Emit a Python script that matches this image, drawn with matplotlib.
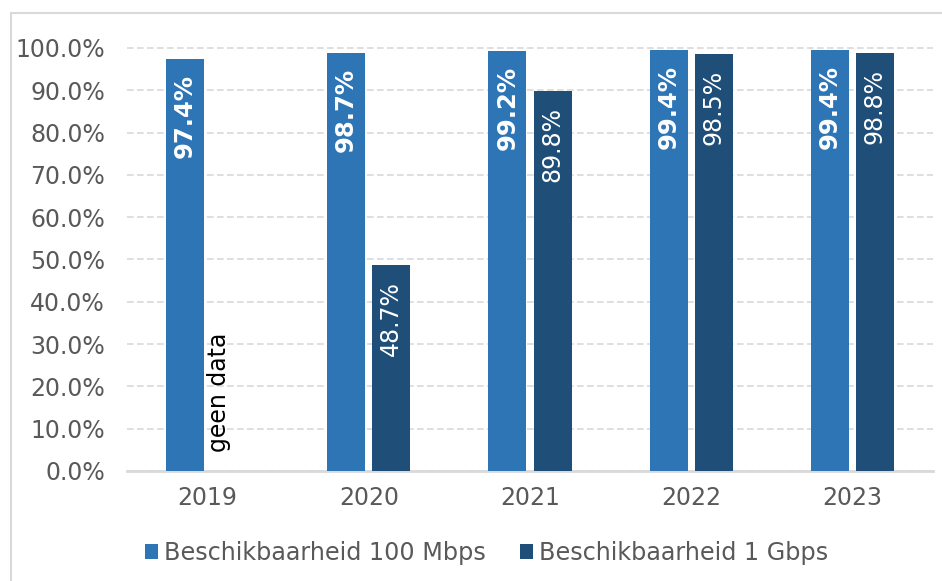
import matplotlib
matplotlib.use("Agg")
import matplotlib.pyplot as plt
import numpy as np
from matplotlib.patches import Rectangle

years = ["2019", "2020", "2021", "2022", "2023"]
mbps100 = [97.4, 98.7, 99.2, 99.4, 99.4]
gbps1 = [np.nan, 48.7, 89.8, 98.5, 98.8]
series_names = ["Beschikbaarheid 100 Mbps", "Beschikbaarheid 1 Gbps"]
no_data_text = "geen data"

blue = "#2E75B6"
dark = "#1F4E79"
grey = "#595959"
grid_col = "#D9D9D9"

plt.rcParams["font.family"] = "DejaVu Sans"
plt.rcParams["font.size"] = 17

fig = plt.figure(figsize=(9.42, 5.81), dpi=100)
fig.patches.append(Rectangle((11 / 942, -0.1), 1.2, 1.1 - 13 / 581,
                             transform=fig.transFigure, fill=False,
                             edgecolor=grid_col, linewidth=1.5))
ax = fig.add_axes([127 / 942, 1 - 471 / 581, (933 - 127) / 942, (471 - 39.5) / 581])

x = np.arange(len(years))
w = 0.235
off = 0.14
b1 = ax.bar(x - off, mbps100, w, color=blue, label=series_names[0], zorder=3)
b2 = ax.bar(x + off, np.nan_to_num(gbps1), w, color=dark, label=series_names[1], zorder=3)

# value labels inside the bars, near the top
for xi, v in zip(x, mbps100):
    ax.annotate(f"{v:.1f}%", (xi - off, v), xytext=(0, -10.5), textcoords="offset points",
                rotation=90, ha="center", va="top", color="white", fontweight="bold",
                fontsize=17.5, zorder=4)
for xi, v in zip(x, gbps1):
    if np.isnan(v):
        ax.text(xi + 0.07, 4.5, no_data_text, rotation=90, ha="center", va="bottom",
                color="black", fontsize=17, zorder=4)
    else:
        ax.annotate(f"{v:.1f}%", (xi + off, v), xytext=(0, -11.5), textcoords="offset points",
                    rotation=90, ha="center", va="top", color="white", fontsize=17, zorder=4)

ax.set_xlim(-0.5, 4.5)
ax.set_ylim(0, 102)
ax.set_yticks(np.arange(0, 101, 10))
ax.set_yticklabels([f"{t:.1f}%" for t in np.arange(0, 101, 10)])
ax.set_xticks(x)
ax.set_xticklabels(years)
ax.tick_params(axis="y", length=0, pad=16, colors=grey)
ax.tick_params(axis="x", length=0, pad=11, colors=grey)
ax.yaxis.grid(True, color=grid_col, linestyle=(0, (4, 2)), linewidth=1.2, zorder=0)
for s in ["top", "right", "left"]:
    ax.spines[s].set_visible(False)
ax.spines["bottom"].set_color(grid_col)
ax.spines["bottom"].set_linewidth(2)

fig.legend(handles=[b1, b2], labels=series_names, loc="center",
           bbox_to_anchor=(486.5 / 942, 1 - 553 / 581), ncol=2, frameon=False,
           handlelength=0.55, handleheight=0.55, handletextpad=0.25, columnspacing=1.4,
           labelcolor=grey, fontsize=17.2)

fig.savefig("out.png", dpi=100)
